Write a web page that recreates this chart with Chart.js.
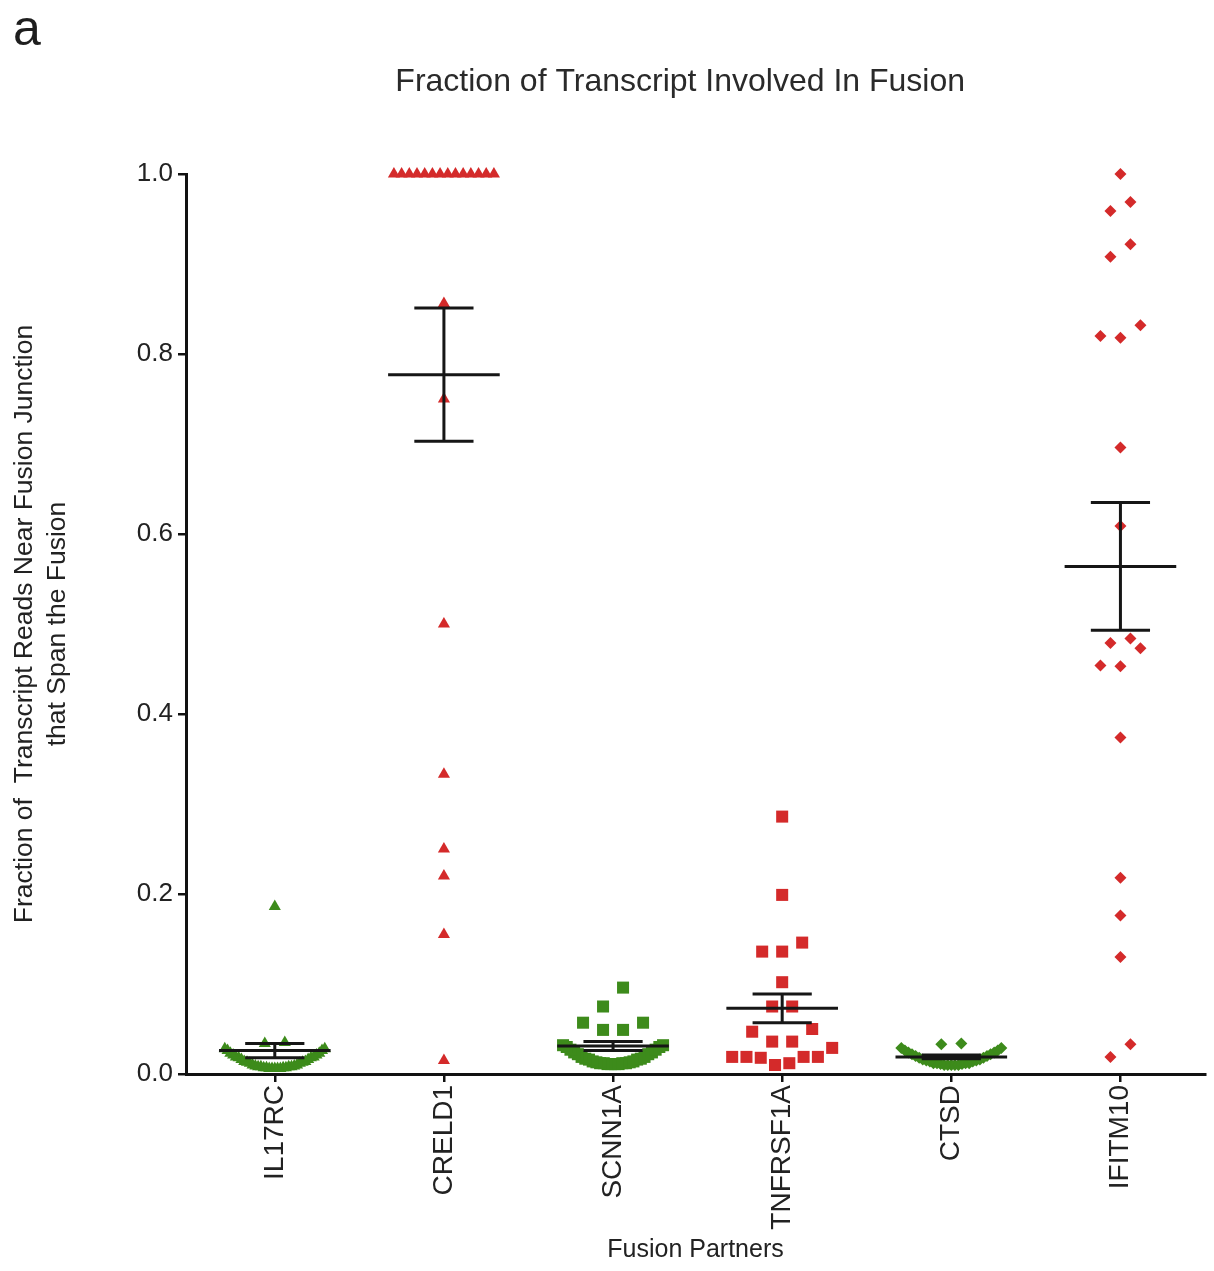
<!DOCTYPE html>
<html><head><meta charset="utf-8">
<script src="https://cdn.jsdelivr.net/npm/chart.js@4"></script>
<style>html,body{margin:0;padding:0;background:#fff}</style>
</head><body>
<canvas id="c" width="1214" height="1271" style="width:1214px;height:1271px;display:block"></canvas>
<script>
const panelLabel = 'a';
const chartTitle = 'Fraction of Transcript Involved In Fusion';
const xAxisTitle = 'Fusion Partners';
const yAxisTitle = ['Fraction of  Transcript Reads Near Fusion Junction', 'that Span the Fusion'];
const categories = ['IL17RC', 'CRELD1', 'SCNN1A', 'TNFRSF1A', 'CTSD', 'IFITM10'];
const yTickLabels = ['0.0', '0.2', '0.4', '0.6', '0.8', '1.0'];

const il17rcValues = [0.006, 0.006, 0.006, 0.006, 0.006, 0.007, 0.007, 0.007, 0.007, 0.008,
  0.008, 0.008, 0.008, 0.009, 0.009, 0.010, 0.010, 0.012, 0.012, 0.013,
  0.013, 0.014, 0.014, 0.016, 0.016, 0.018, 0.018, 0.019, 0.019, 0.021,
  0.021, 0.023, 0.023, 0.026, 0.026, 0.028, 0.028, 0.034, 0.035, 0.186];
const creld1Values = [1.0, 1.0, 1.0, 1.0, 1.0, 1.0, 1.0, 1.0, 1.0, 1.0, 1.0, 1.0, 1.0, 1.0,
  0.856, 0.750, 0.500, 0.333, 0.250, 0.220, 0.155, 0.015];
const scnn1aValues = [0.011, 0.011, 0.011, 0.011, 0.012, 0.012, 0.012, 0.012, 0.013, 0.013,
  0.014, 0.014, 0.016, 0.016, 0.017, 0.017, 0.019, 0.019, 0.022, 0.022,
  0.024, 0.024, 0.027, 0.027, 0.030, 0.030, 0.032, 0.032,
  0.049, 0.049, 0.057, 0.057, 0.075, 0.096];
const tnfrsf1aValues = [0.286, 0.199, 0.146, 0.136, 0.136, 0.102, 0.075, 0.075, 0.050, 0.047,
  0.036, 0.036, 0.029, 0.019, 0.019, 0.018, 0.010, 0.012, 0.019, 0.019];
const ctsdValues = [0.010, 0.010, 0.010, 0.010, 0.010, 0.011, 0.011, 0.012, 0.012, 0.012,
  0.012, 0.014, 0.014, 0.015, 0.015, 0.016, 0.016, 0.018, 0.018, 0.020,
  0.020, 0.022, 0.022, 0.024, 0.024, 0.026, 0.026, 0.029, 0.029, 0.033, 0.034];
const ifitm10Values = [1.000, 0.969, 0.959, 0.922, 0.908, 0.832, 0.820, 0.818, 0.696, 0.609,
  0.484, 0.479, 0.473, 0.454, 0.453, 0.374, 0.218, 0.176, 0.130, 0.033, 0.019];

const groupMeans = [0.026, 0.777, 0.031, 0.073, 0.019, 0.564];
const groupSems  = [0.008, 0.074, 0.005, 0.016, 0.002, 0.071];

const GREEN = '#3d8b1b';
const RED = '#d42a2a';
const FONT = "'Liberation Sans', Arial, sans-serif";

const groups = [
  { values: il17rcValues,   color: GREEN, style: 'triangle', radius: 7 },
  { values: creld1Values,   color: RED,   style: 'triangle', radius: 7 },
  { values: scnn1aValues,   color: GREEN, style: 'rect',     radius: 8.5 },
  { values: tnfrsf1aValues, color: RED,   style: 'rect',     radius: 8.5 },
  { values: ctsdValues,     color: GREEN, style: 'rectRot',  radius: 6 },
  { values: ifitm10Values,  color: RED,   style: 'rectRot',  radius: 6 }
];

// column-scatter layout (pixels): slot width, chain gap, row height, max row span
const SLOT_W = 20, CHAIN_GAP = 22, ROW_H = 20, MAX_SPAN = 100;

function columnScatterOffsets(values, toPx) {
  const order = values.map((_, i) => i).sort((a, b) => values[a] - values[b]);
  const clusters = [];
  let cur = null;
  for (const idx of order) {
    const py = toPx(values[idx]);
    if (cur && Math.abs(py - cur.lastPy) <= CHAIN_GAP && Math.abs(py - cur.startPy) <= ROW_H + 1e-6) {
      cur.items.push(idx); cur.lastPy = py;
    } else {
      cur = { items: [idx], startPy: py, lastPy: py };
      clusters.push(cur);
    }
  }
  const out = new Array(values.length).fill(0);
  clusters.forEach(c => {
    const n = c.items.length;
    const sp = n > 1 ? Math.min(SLOT_W, MAX_SPAN / (n - 1)) : 0;
    const slots = [];
    for (let j = 0; j < n; j++) slots.push(j - (n - 1) / 2);
    slots.sort((a, b) => (Math.abs(a) - Math.abs(b)) || (a - b));
    c.items.forEach((idx, k) => { out[idx] = slots[k] * sp; });
  });
  return out;
}

const errorBarPlugin = {
  id: 'errorBars',
  afterDatasetsDraw(chart) {
    const { ctx, scales: { x, y } } = chart;
    ctx.save();
    ctx.strokeStyle = '#161616';
    ctx.lineWidth = 3;
    ctx.lineCap = 'butt';
    groupMeans.forEach((m, i) => {
      const s = groupSems[i];
      const cx = x.getPixelForValue(i);
      const meanHalf = x.getPixelForValue(i + 0.33) - cx;
      const capHalf = x.getPixelForValue(i + 0.175) - cx;
      const ym = y.getPixelForValue(m), yt = y.getPixelForValue(m + s), yb = y.getPixelForValue(m - s);
      ctx.beginPath();
      ctx.moveTo(cx - meanHalf, ym); ctx.lineTo(cx + meanHalf, ym);
      ctx.moveTo(cx - capHalf, yt); ctx.lineTo(cx + capHalf, yt);
      ctx.moveTo(cx - capHalf, yb); ctx.lineTo(cx + capHalf, yb);
      ctx.moveTo(cx, yt); ctx.lineTo(cx, yb);
      ctx.stroke();
    });
    ctx.restore();
  }
};

const headerPlugin = {
  id: 'header',
  afterDraw(chart) {
    const { ctx, chartArea } = chart;
    ctx.save();
    ctx.fillStyle = '#1e1e1e';
    ctx.textBaseline = 'alphabetic';
    ctx.textAlign = 'left';
    ctx.font = '50px ' + FONT;
    ctx.fillText(panelLabel, 13, 45);
    ctx.fillStyle = '#2a2a2a';
    ctx.textAlign = 'center';
    ctx.textBaseline = 'middle';
    ctx.font = '32px ' + FONT;
    ctx.fillText(chartTitle, chartArea.left + (chartArea.right - chartArea.left) * 0.485, 82);
    ctx.restore();
  }
};

const chart = new Chart(document.getElementById('c'), {
  type: 'scatter',
  data: {
    datasets: groups.map((g, i) => ({
      label: categories[i],
      data: g.values.map(v => ({ x: i, y: v })),
      pointStyle: g.style,
      pointRadius: g.radius,
      pointHoverRadius: g.radius,
      backgroundColor: g.color,
      borderColor: g.color,
      borderWidth: 0,
      clip: false
    }))
  },
  options: {
    responsive: false,
    animation: false,
    devicePixelRatio: 1,
    layout: { padding: { left: 0, right: 9, top: 174, bottom: 0 } },
    plugins: { legend: { display: false }, tooltip: { enabled: false }, title: { display: false } },
    scales: {
      x: {
        type: 'linear', min: -0.525, max: 5.5,
        afterBuildTicks: s => { s.ticks = categories.map((c, i) => ({ value: i })); },
        afterFit: s => { s.height = 197; },
        ticks: {
          autoSkip: false, minRotation: 90, maxRotation: 90, padding: 3,
          color: '#222', font: { family: FONT, size: 28 },
          callback: v => categories[Math.round(v)]
        },
        grid: { display: true, drawOnChartArea: false, drawTicks: true, tickLength: 8, color: '#111', lineWidth: 2.5 },
        border: { display: true, color: '#111', width: 3 },
        title: { display: true, text: xAxisTitle, color: '#222', font: { family: FONT, size: 25 }, padding: { top: 0, bottom: 6 } }
      },
      y: {
        min: 0, max: 1,
        afterBuildTicks: s => { s.ticks = yTickLabels.map(t => ({ value: parseFloat(t) })); },
        afterFit: s => { s.width = 186; },
        ticks: {
          padding: 5, color: '#222', font: { family: FONT, size: 26 },
          callback: v => yTickLabels.find(t => Math.abs(parseFloat(t) - v) < 1e-9)
        },
        grid: { display: true, drawOnChartArea: false, drawTicks: true, tickLength: 8, color: '#111', lineWidth: 2.5 },
        border: { display: true, color: '#111', width: 3 },
        title: { display: true, text: yAxisTitle, color: '#222', font: { family: FONT, size: 26.5, lineHeight: 1.25 }, padding: { top: 8, bottom: 0 } }
      }
    }
  },
  plugins: [errorBarPlugin, headerPlugin]
});

(function layoutColumns() {
  const xs = chart.scales.x, ys = chart.scales.y;
  const pxPerUnit = xs.getPixelForValue(1) - xs.getPixelForValue(0);
  groups.forEach((g, i) => {
    const offs = columnScatterOffsets(g.values, v => ys.getPixelForValue(v));
    chart.data.datasets[i].data = g.values.map((v, k) => ({ x: i + offs[k] / pxPerUnit, y: v }));
  });
  chart.update('none');
})();
</script>
</body></html>
